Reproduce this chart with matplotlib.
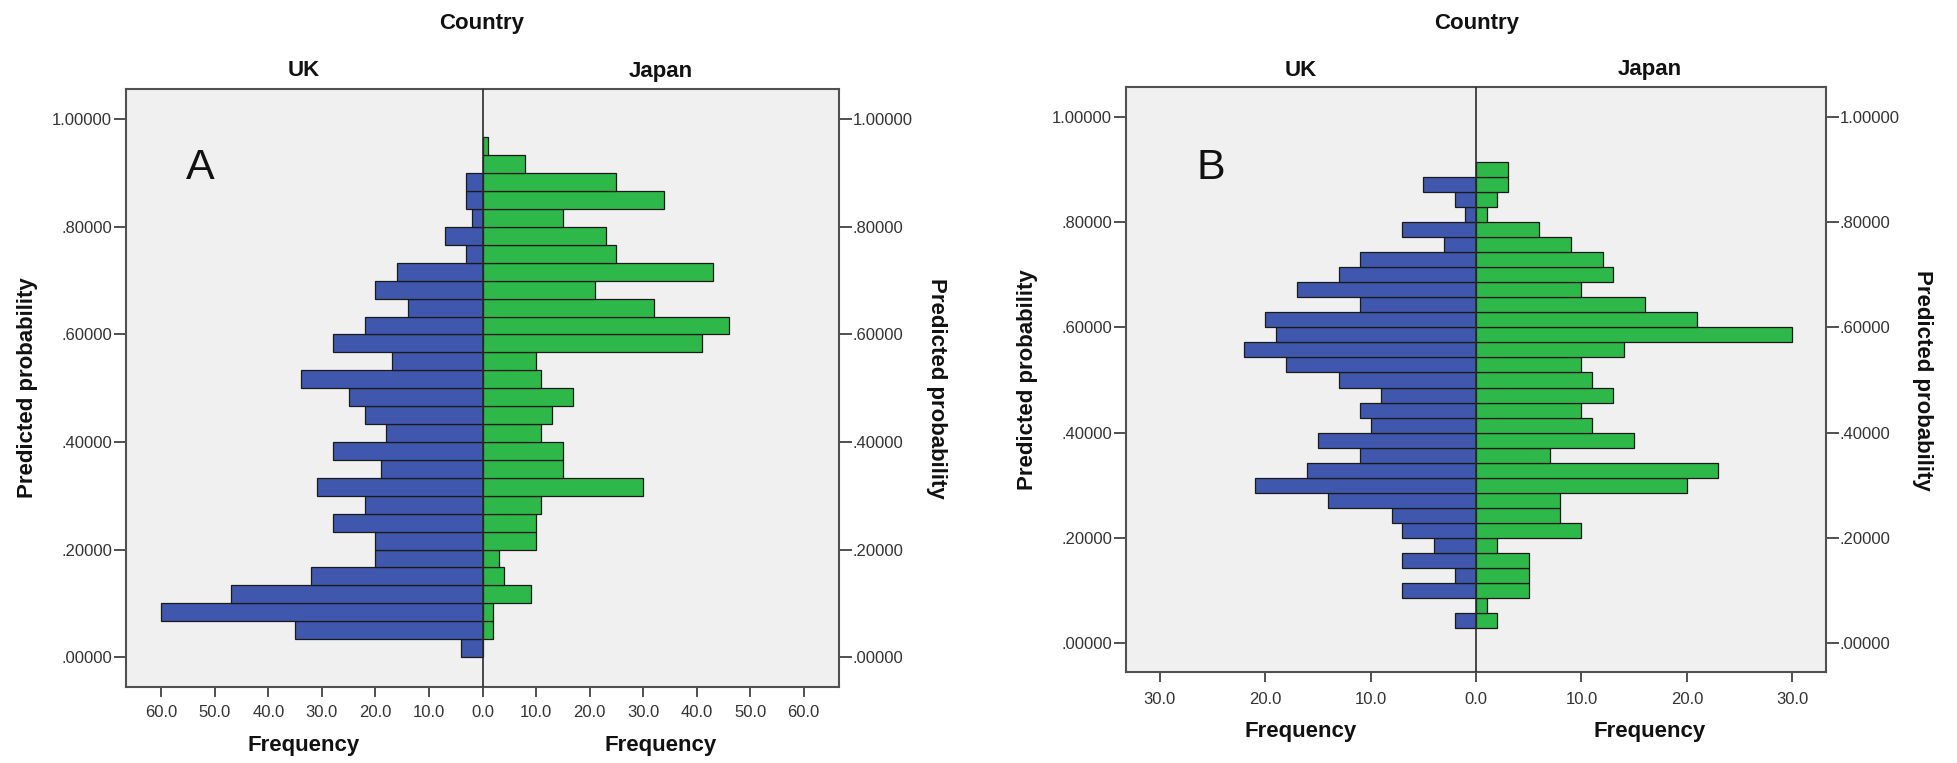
import numpy as np
import matplotlib.pyplot as plt
from matplotlib.ticker import FuncFormatter, MultipleLocator

plt.rcParams['font.family'] = ['Liberation Sans', 'DejaVu Sans']

# counts per predicted-probability bin, lowest bin first
uk_a = [4, 35, 60, 47, 32, 20, 20, 28, 22, 31, 19, 28, 18, 22, 25,
        34, 17, 28, 22, 14, 20, 16, 3, 7, 2, 3, 3, 0, 0, 0]
japan_a = [0, 2, 2, 9, 4, 3, 10, 10, 11, 30, 15, 15, 11, 13, 17,
           11, 10, 41, 46, 32, 21, 43, 25, 23, 15, 34, 25, 8, 1, 0]

uk_b = [0, 2, 0, 7, 2, 7, 4, 7, 8, 14, 21, 16, 11, 15, 10, 11, 9, 13,
        18, 22, 19, 20, 11, 17, 13, 11, 3, 7, 1, 2, 5, 0, 0, 0, 0]
japan_b = [0, 2, 1, 5, 5, 5, 2, 10, 8, 8, 20, 23, 7, 15, 11, 10, 13, 11,
           10, 14, 30, 21, 16, 10, 13, 12, 9, 6, 1, 2, 3, 3, 0, 0, 0]

BLUE = '#3f57ad'
GREEN = '#2fb84a'
BG = '#f0f0f0'
FRAME = '#505050'
W, H = 1957, 763


def fig_x(px):
    return px / W


def fig_y(px):
    return 1 - px / H


def prob_fmt(v, pos):
    s = '%.5f' % v
    return s[1:] if s.startswith('0') else s


def pyramid(ax, left, right, xmax, xstep, panel, panel_xy, xpad):
    n = len(left)
    edges = np.arange(n) / n
    left = np.array(left)
    right = np.array(right)
    m = left > 0
    ax.barh(edges[m], -left[m], height=1 / n, align='edge', color=BLUE,
            edgecolor='#1a1a1a', linewidth=0.9, zorder=2)
    m = right > 0
    ax.barh(edges[m], right[m], height=1 / n, align='edge', color=GREEN,
            edgecolor='#1a1a1a', linewidth=0.9, zorder=2)
    ax.axvline(0, color='#2a2a2a', lw=1.2, zorder=3)
    ax.set_facecolor(BG)
    ax.set_xlim(-xmax, xmax)
    ax.set_ylim(-0.055, 1.0558)
    ax.xaxis.set_major_locator(MultipleLocator(xstep))
    ax.xaxis.set_major_formatter(FuncFormatter(lambda v, p: '%.1f' % abs(v)))
    ax.yaxis.set_major_locator(MultipleLocator(0.2))
    ax.yaxis.set_major_formatter(FuncFormatter(prob_fmt))
    ax.tick_params(axis='y', length=9, width=1.4, color=FRAME, pad=1,
                   labelsize=12, labelcolor='#333333',
                   right=True, labelright=True)
    ax.tick_params(axis='x', length=7, width=1.4, color=FRAME, pad=xpad,
                   labelsize=12, labelcolor='#333333')
    for sp in ax.spines.values():
        sp.set_color(FRAME)
        sp.set_linewidth(1.5)
    ax.text(panel_xy[0], panel_xy[1], panel, transform=ax.transAxes,
            fontsize=31, ha='center', va='center', color='#111111')


fig = plt.figure(figsize=(W / 100, H / 100), dpi=100)
fig.patch.set_facecolor('white')

# panel A
ax1 = fig.add_axes([fig_x(126), fig_y(686.7), fig_x(839 - 126), (686.7 - 89.3) / H])
pyramid(ax1, uk_a, japan_a, 66.6, 10, 'A', (0.1045, 0.869), 6)
# panel B
ax2 = fig.add_axes([fig_x(1126), fig_y(672.3), fig_x(1826 - 1126), (672.3 - 87.3) / H])
pyramid(ax2, uk_b, japan_b, 33.2, 10, 'B', (0.121, 0.862), 7)

bold = dict(fontsize=16, fontweight='bold', color='#111111',
            ha='center', va='center')

for cx, uk_x, jp_x, head_y, freq_y, ylab_l, ylab_r, ymid in [
        (482, 304, 661, 71, 746, 28, 936, 388),
        (1477, 1301, 1650, 70, 731, 1028, 1922, 380)]:
    fig.text(fig_x(cx), fig_y(23), 'Country', **bold)
    fig.text(fig_x(uk_x), fig_y(head_y), 'UK', **bold)
    fig.text(fig_x(jp_x), fig_y(head_y), 'Japan', **bold)
    fig.text(fig_x(uk_x), fig_y(freq_y), 'Frequency', **bold)
    fig.text(fig_x(jp_x), fig_y(freq_y), 'Frequency', **bold)
    fig.text(fig_x(ylab_l), fig_y(ymid), 'Predicted probability',
             rotation=90, **bold)
    fig.text(fig_x(ylab_r), fig_y(ymid), 'Predicted probability',
             rotation=270, **bold)

fig.savefig('out.png', dpi=100, facecolor='white')
